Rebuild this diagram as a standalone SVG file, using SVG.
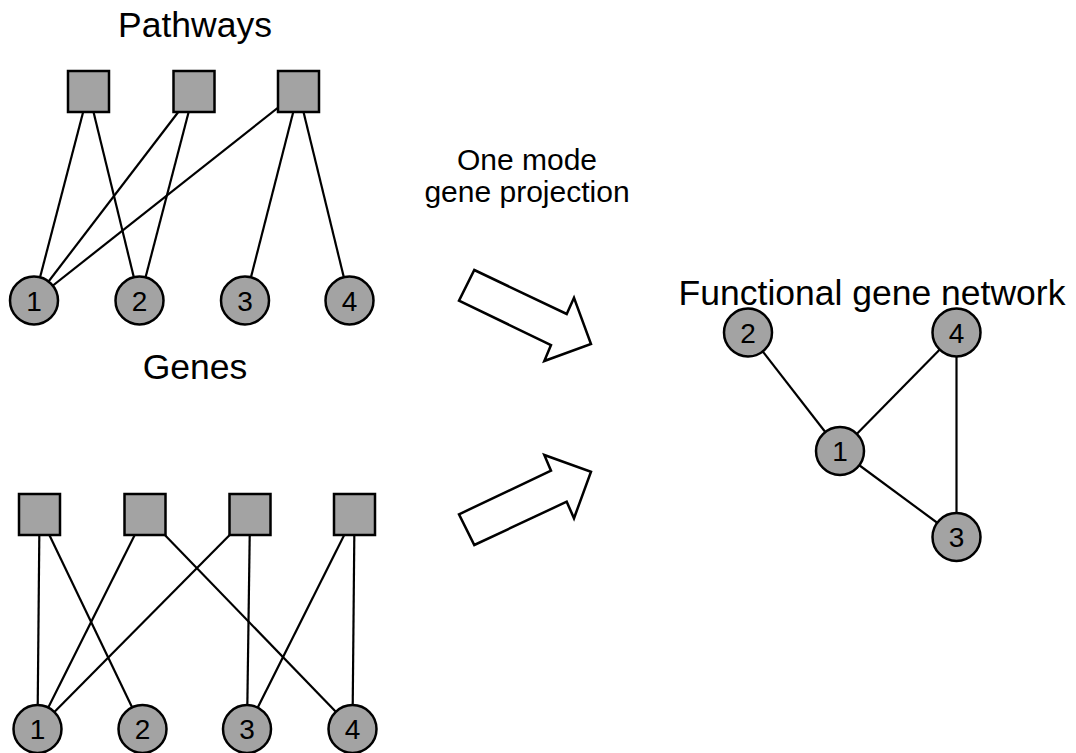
<svg xmlns="http://www.w3.org/2000/svg" width="1076" height="753" viewBox="0 0 1076 753">
<style>
.sq{fill:#a3a3a3;stroke:#000;stroke-width:2.5}
.nd{fill:#a3a3a3;stroke:#000;stroke-width:2.5}
.num{font-family:"Liberation Sans",Arial,sans-serif;font-size:28px;fill:#000;text-anchor:middle}
.lbl{font-family:"Liberation Sans",Arial,sans-serif;font-size:35.5px;fill:#000;text-anchor:middle}
.sm{font-family:"Liberation Sans",Arial,sans-serif;font-size:30px;fill:#000;text-anchor:middle}
.ln{stroke:#000;stroke-width:2.2;fill:none}
.arr{fill:#fff;stroke:#000;stroke-width:2.5;stroke-linejoin:miter}
</style>
<rect width="1076" height="753" fill="#fff"/>
<g id="labels">
<text class="lbl" x="195" y="37">Pathways</text>
<text class="lbl" x="195" y="379">Genes</text>
<text class="sm" x="527" y="170">One mode</text>
<text class="sm" x="527" y="202">gene projection</text>
<text class="lbl" x="872" y="305">Functional gene network</text>
</g>
<g id="connectors">
<line class="ln" x1="88.5" y1="91.5" x2="34" y2="300.5"/>
<line class="ln" x1="88.5" y1="91.5" x2="139.5" y2="300.5"/>
<line class="ln" x1="194" y1="91.5" x2="34" y2="300.5"/>
<line class="ln" x1="194" y1="91.5" x2="139.5" y2="300.5"/>
<line class="ln" x1="298.5" y1="91.5" x2="34" y2="300.5"/>
<line class="ln" x1="298.5" y1="91.5" x2="245" y2="300.5"/>
<line class="ln" x1="298.5" y1="91.5" x2="349.5" y2="300.5"/>
<line class="ln" x1="39.5" y1="514.5" x2="37.5" y2="729"/>
<line class="ln" x1="39.5" y1="514.5" x2="142.5" y2="729"/>
<line class="ln" x1="145" y1="514.5" x2="37.5" y2="729"/>
<line class="ln" x1="145" y1="514.5" x2="352.5" y2="729"/>
<line class="ln" x1="250" y1="514.5" x2="37.5" y2="729"/>
<line class="ln" x1="250" y1="514.5" x2="247" y2="729"/>
<line class="ln" x1="354.5" y1="514.5" x2="247" y2="729"/>
<line class="ln" x1="354.5" y1="514.5" x2="352.5" y2="729"/>
<line class="ln" x1="748" y1="332.5" x2="840" y2="451"/>
<line class="ln" x1="840" y1="451" x2="956.5" y2="332.5"/>
<line class="ln" x1="956.5" y1="332.5" x2="956.5" y2="537"/>
<line class="ln" x1="840" y1="451" x2="956.5" y2="537"/>
</g>
<g id="arrow-top"><polygon class="arr" points="474.3,270 566.7,314 574,297.7 591,344 544.3,361 551,345 459,300.7"/></g>
<g id="arrow-bottom"><polygon class="arr" points="459,514.3 551,470.7 544.3,455 591,471.7 574,518.3 566.7,501.7 474.3,545"/></g>
<g id="pathway-top-1"><rect class="sq" x="68" y="71" width="41" height="41"/></g>
<g id="pathway-top-2"><rect class="sq" x="173.5" y="71" width="41" height="41"/></g>
<g id="pathway-top-3"><rect class="sq" x="278" y="71" width="41" height="41"/></g>
<g id="gene-top-1"><circle class="nd" cx="34" cy="300.5" r="24"/><text class="num" x="34" y="310.5">1</text></g>
<g id="gene-top-2"><circle class="nd" cx="139.5" cy="300.5" r="24"/><text class="num" x="139.5" y="310.5">2</text></g>
<g id="gene-top-3"><circle class="nd" cx="245" cy="300.5" r="24"/><text class="num" x="245" y="310.5">3</text></g>
<g id="gene-top-4"><circle class="nd" cx="349.5" cy="300.5" r="24"/><text class="num" x="349.5" y="310.5">4</text></g>
<g id="pathway-bot-1"><rect class="sq" x="19" y="494" width="41" height="41"/></g>
<g id="pathway-bot-2"><rect class="sq" x="124.5" y="494" width="41" height="41"/></g>
<g id="pathway-bot-3"><rect class="sq" x="229.5" y="494" width="41" height="41"/></g>
<g id="pathway-bot-4"><rect class="sq" x="334" y="494" width="41" height="41"/></g>
<g id="gene-bot-1"><circle class="nd" cx="37.5" cy="729" r="24"/><text class="num" x="37.5" y="739">1</text></g>
<g id="gene-bot-2"><circle class="nd" cx="142.5" cy="729" r="24"/><text class="num" x="142.5" y="739">2</text></g>
<g id="gene-bot-3"><circle class="nd" cx="247" cy="729" r="24"/><text class="num" x="247" y="739">3</text></g>
<g id="gene-bot-4"><circle class="nd" cx="352.5" cy="729" r="24"/><text class="num" x="352.5" y="739">4</text></g>
<g id="net-1"><circle class="nd" cx="840" cy="451" r="24"/><text class="num" x="840" y="461">1</text></g>
<g id="net-2"><circle class="nd" cx="748" cy="332.5" r="24"/><text class="num" x="748" y="342.5">2</text></g>
<g id="net-3"><circle class="nd" cx="956.5" cy="537" r="24"/><text class="num" x="956.5" y="547">3</text></g>
<g id="net-4"><circle class="nd" cx="956.5" cy="332.5" r="24"/><text class="num" x="956.5" y="342.5">4</text></g>
</svg>
